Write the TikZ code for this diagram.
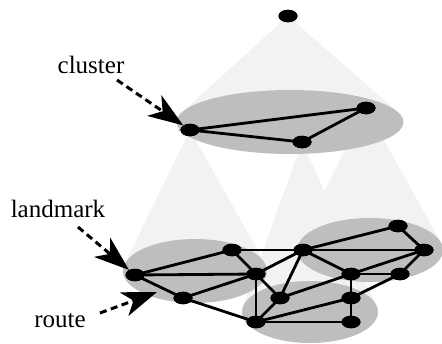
\documentclass[tikz,border=0pt]{standalone}
\usepackage{fontspec}
\setmainfont{Liberation Serif}
\usetikzlibrary{shapes.geometric,arrows.meta}
\definecolor{conegray}{RGB}{241,242,244}
\definecolor{blobgray}{RGB}{188,190,192}
\tikzset{
  dot/.style={ellipse,fill=black,minimum width=19pt,minimum height=12.5pt,inner sep=0pt},
  link/.style={line width=2.8pt,black},
  cone/.style={fill=conegray,draw=none},
  blob/.style={fill=blobgray,draw=none},
  lbl/.style={font=\fontsize{25}{30}\selectfont,anchor=base,inner sep=0pt},
  pointer/.style={line width=3pt,dash pattern=on 7pt off 4.5pt,-{Stealth[length=35pt,width=25pt,inset=10pt]}}
}
\begin{document}
\begin{tikzpicture}[x=1pt,y=-1pt]
\useasboundingbox (0,0) rectangle (442,343);
\begin{scope}
\clip (0,0) rectangle (442,343);
% cones
\fill[cone] (288,16) -- (181.6,112.5) -- (398,112.2) -- cycle;
\fill[cone] (190,130) -- (124.6,264.2) -- (264.9,263.2) -- cycle;
\fill[cone] (302,142) -- (242.9,307) -- (376.6,305.7) -- cycle;
\fill[cone] (366,108) -- (298.7,243.2) -- (440.9,242.4) -- cycle;
% clusters
\fill[blob] (290,122) ellipse [x radius=113.5, y radius=32];
\fill[blob] (195,271) ellipse [x radius=72, y radius=32];
\fill[blob] (370,250) ellipse [x radius=73, y radius=32];
\fill[blob] (310,312) ellipse [x radius=68, y radius=31];
\end{scope}
% nodes
\node[dot] (T) at (288,16) {};
\node[dot] (A) at (190,130) {};
\node[dot] (B) at (366,108) {};
\node[dot] (C) at (302,142) {};
\node[dot] (L1) at (135,275) {};
\node[dot] (L2) at (232,250) {};
\node[dot] (L3) at (256,274) {};
\node[dot] (L4) at (183,298) {};
\node[dot] (M1) at (303,250) {};
\node[dot] (R1) at (398,226) {};
\node[dot] (R2) at (424,250) {};
\node[dot] (R3) at (351,274) {};
\node[dot] (R4) at (400,274) {};
\node[dot] (B1) at (280,298) {};
\node[dot] (B2) at (351,298) {};
\node[dot] (B3) at (256,322) {};
\node[dot] (B4) at (351,322) {};
% edges
\draw[link] (A.center) -- (B.center) -- (C.center) -- cycle;
\foreach \u/\v in {L1/L2,L1/L3,L1/L4,L2/L3,L4/L3,L4/B3,L2/M1,L3/M1,L3/B1,L3/B3,M1/B1,B1/B3,B1/R3,B3/B2,B3/B4,M1/R1,M1/R2,M1/R3,R1/R2,R3/R2,R4/R2,R3/R4,R3/B2,B2/R4,B2/B4}
  \draw[link] (\u.center) -- (\v.center);
% redraw node dots on top of the edges
\foreach \n in {T,A,B,C,L1,L2,L3,L4,M1,R1,R2,R3,R4,B1,B2,B3,B4}
  \fill (\n.center) ellipse [x radius=9.5pt, y radius=6.25pt];
% labels
\node[lbl] (cl) at (91,73) {cluster};
\node[lbl] (lm) at (58,217) {landmark};
\node[lbl] (rt) at (60,327) {route};
\coordinate (cs) at (117,80);
\coordinate (ls) at (78,227);
\coordinate (rs) at (100,313);
\coordinate (re) at (157,292);
\draw[pointer] (cs) -- (A);
\draw[pointer] (ls) -- (L1);
\draw[pointer] (rs) -- (re);
\end{tikzpicture}
\end{document}
